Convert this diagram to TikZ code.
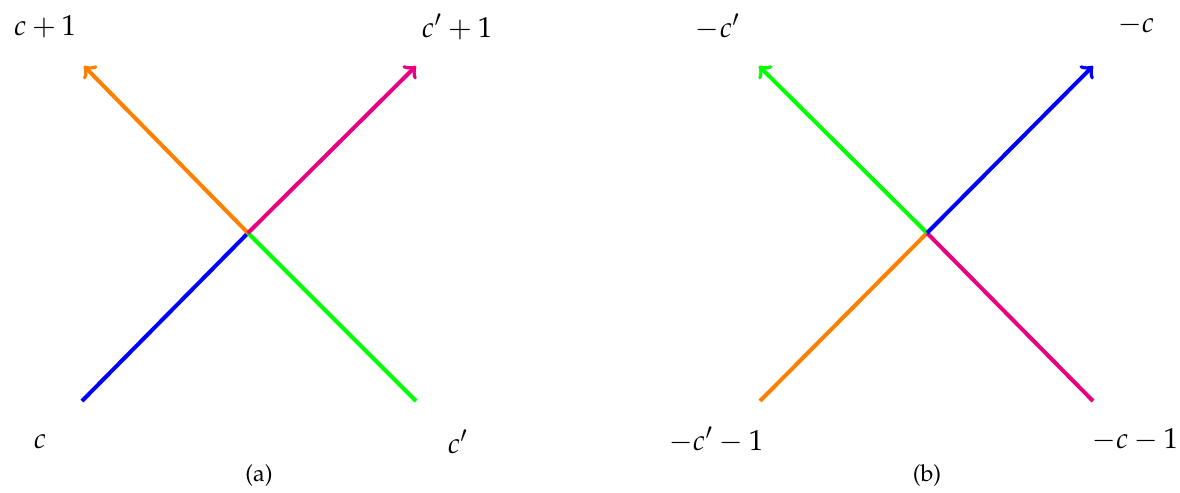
\documentclass[tikz,border=0pt]{standalone}
\usepackage[T1]{fontenc}
\usepackage{mathpazo}
\definecolor{cblue}{RGB}{0,0,255}
\definecolor{cgreen}{RGB}{0,255,0}
\definecolor{corange}{RGB}{255,128,0}
\definecolor{cpink}{RGB}{232,0,128}
\begin{document}
\begin{tikzpicture}[x=0.364pt,y=-0.364pt,
  arm/.style={line width=1.45pt},
  armarrow/.style={arm,->},
  lab/.style={inner sep=0pt,font=\fontsize{10.5}{12}\selectfont},
  captext/.style={inner sep=0pt,font=\fontsize{8.5}{10}\selectfont}]
\useasboundingbox (0,0) rectangle (1180,492);
% panel (a)
\coordinate (ca) at (248,233);
\coordinate (abl) at (82,401);
\coordinate (abr) at (416,401);
\coordinate (atl) at (84,66);
\coordinate (atr) at (416,66);
\draw[arm,cblue] (abl) -- (ca);
\draw[arm,cgreen] (ca) -- (abr);
\draw[armarrow,corange] (ca) -- (atl);
\draw[armarrow,cpink] (ca) -- (atr);
\node[lab] (la1) at (45,27) {$c+1$};
\node[lab] (la2) at (457,27) {$c'+1$};
\node[lab] (la3) at (40,442) {$c$};
\node[lab] (la4) at (458,442) {$c'$};
\node[captext] (capa) at (259,475) {(a)};
% panel (b)
\coordinate (cb) at (927,233);
\coordinate (bbl) at (760,401);
\coordinate (bbr) at (1093,401);
\coordinate (btl) at (759,66);
\coordinate (btr) at (1093,66);
\draw[arm,corange] (bbl) -- (cb);
\draw[arm,cpink] (cb) -- (bbr);
\draw[armarrow,cgreen] (cb) -- (btl);
\draw[armarrow,cblue] (cb) -- (btr);
\node[lab] (lb1) at (718,27) {$-c'$};
\node[lab] (lb2) at (1136,25) {$-c$};
\node[lab] (lb3) at (716,440) {$-c'-1$};
\node[lab] (lb4) at (1135,440) {$-c-1$};
\node[captext] (capb) at (927,475) {(b)};
\end{tikzpicture}
\end{document}
